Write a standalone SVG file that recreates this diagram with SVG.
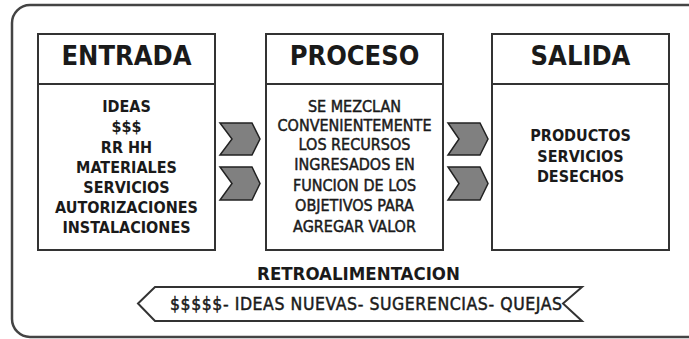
<svg xmlns="http://www.w3.org/2000/svg" width="689" height="339" viewBox="0 0 689 339">
<style>
.frame{fill:#fff;stroke:#444;stroke-width:2.5}
.box{fill:#fff;stroke:#333;stroke-width:2}
.chev{fill:#808080;stroke:#222;stroke-width:1.5;stroke-linejoin:miter}
.banner{fill:#fff;stroke:#333;stroke-width:2}
text{font-family:"DejaVu Sans Condensed","DejaVu Sans",sans-serif;fill:#1a1a1a;text-anchor:middle}
.h{font-size:27px;font-weight:bold}
.b{font-size:16px;font-weight:bold}
.r{font-size:16px;stroke:#1a1a1a;stroke-width:0.45}
.fb{font-size:18.5px;font-weight:bold}
.bt{font-size:17.5px;text-anchor:start;stroke:#1a1a1a;stroke-width:0.45}
</style>
<rect x="0" y="0" width="689" height="339" fill="#fff"/>
<rect class="frame" x="12" y="5" width="700" height="332" rx="18"/>
<g id="entrada">
<rect class="box" x="38" y="34" width="177" height="216"/>
<line class="box" x1="38" y1="84" x2="215" y2="84"/>
<text class="h" x="126.5" y="65">ENTRADA</text>
<text class="b" x="126.5" y="112">IDEAS</text>
<text class="b" x="126.5" y="132">$$$</text>
<text class="b" x="126.5" y="152.5">RR HH</text>
<text class="b" x="126.5" y="172.5">MATERIALES</text>
<text class="b" x="126.5" y="193">SERVICIOS</text>
<text class="b" x="126.5" y="213">AUTORIZACIONES</text>
<text class="b" x="126.5" y="233">INSTALACIONES</text>
</g>
<g id="proceso">
<rect class="box" x="266" y="34" width="177" height="216"/>
<line class="box" x1="266" y1="84" x2="443" y2="84"/>
<text class="h" x="354.5" y="65">PROCESO</text>
<text class="r" x="354.5" y="112">SE MEZCLAN</text>
<text class="r" x="354.5" y="131">CONVENIENTEMENTE</text>
<text class="r" x="354.5" y="150">LOS RECURSOS</text>
<text class="r" x="354.5" y="170">INGRESADOS EN</text>
<text class="r" x="354.5" y="191">FUNCION DE LOS</text>
<text class="r" x="354.5" y="211">OBJETIVOS PARA</text>
<text class="r" x="354.5" y="232">AGREGAR VALOR</text>
</g>
<g id="salida">
<rect class="box" x="492" y="34" width="177" height="216"/>
<line class="box" x1="492" y1="84" x2="669" y2="84"/>
<text class="h" x="580.5" y="65">SALIDA</text>
<text class="b" x="580.5" y="141">PRODUCTOS</text>
<text class="b" x="580.5" y="161.5">SERVICIOS</text>
<text class="b" x="580.5" y="182">DESECHOS</text>
</g>
<g id="connectors">
<polygon class="chev" points="220,123 252,123 260,139 252,155 220,155 232,139"/>
<polygon class="chev" points="220,167 252,167 260,183.5 252,200 220,200 232,183.5"/>
<polygon class="chev" points="448,123 480,123 488,139 480,155 448,155 459,139"/>
<polygon class="chev" points="448,167 480,167 488,183.5 480,200 448,200 459,183.5"/>
</g>
<g id="retroalimentacion">
<text class="fb" x="358.5" y="280">RETROALIMENTACION</text>
<polygon class="banner" points="138,303.5 155,287 582,287 563,303.5 582,321 155,321"/>
<text class="bt" x="170" y="310" textLength="392" lengthAdjust="spacing">$$$$$- IDEAS NUEVAS- SUGERENCIAS- QUEJAS</text>
</g>
</svg>
